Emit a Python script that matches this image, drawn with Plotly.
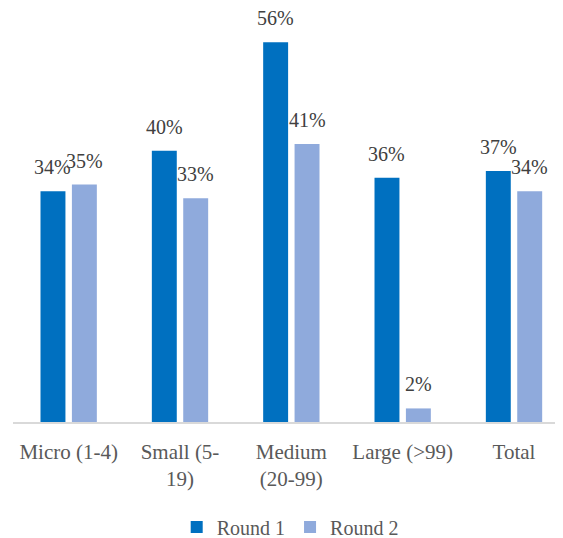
import plotly.graph_objects as go

categories = ["Micro (1-4)", "Small (5-<br>19)", "Medium<br>(20-99)", "Large (>99)", "Total"]
round1 = [0.34, 0.40, 0.56, 0.36, 0.37]
round2 = [0.35, 0.33, 0.41, 0.02, 0.34]
series_names = ["Round 1", "Round 2"]
colors = ["#0070C0", "#8FAADC"]

FONT = "Liberation Serif"
TEXT_COLOR = "#595959"
LABEL_COLOR = "#404040"

bar_w = 0.224
gap = 0.058
offsets = [-bar_w - gap / 2, gap / 2]

x_idx = list(range(len(categories)))

fig = go.Figure()
for name, vals, col, off in zip(series_names, [round1, round2], colors, offsets):
    fig.add_trace(go.Bar(
        x=x_idx, y=vals, name=name, marker=dict(color=col, line=dict(width=0)),
        width=bar_w, offset=off, hoverinfo="skip",
    ))

annotations = []
for vals, off in zip([round1, round2], offsets):
    for i, v in enumerate(vals):
        annotations.append(dict(
            x=i + off + bar_w / 2, y=v, xref="x", yref="y",
            text=f"{round(v * 100)}%", showarrow=False,
            yanchor="bottom", xanchor="center", yshift=11,
            font=dict(family=FONT, size=20, color=LABEL_COLOR),
        ))

fig.update_layout(
    width=563, height=538,
    margin=dict(l=5, r=8, t=7, b=124, autoexpand=False),
    paper_bgcolor="white", plot_bgcolor="white",
    barmode="overlay",
    annotations=annotations,
    showlegend=True,
    legend=dict(
        orientation="h", xref="paper", yref="paper",
        x=0.504, y=-0.258, xanchor="center", yanchor="middle",
        font=dict(family=FONT, size=20, color=TEXT_COLOR),
        itemwidth=30, tracegroupgap=0,
    ),
)
fig.update_xaxes(
    type="linear", range=[-0.5, 4.44], automargin=False,
    tickmode="array", tickvals=x_idx, ticktext=categories,
    showline=True, linecolor="#D9D9D9", linewidth=1.5,
    showgrid=False, zeroline=False, ticks="", ticklabelstandoff=10,
    tickfont=dict(family=FONT, size=21, color=TEXT_COLOR),
)
fig.update_yaxes(
    range=[0, 0.6], visible=False, showgrid=False, zeroline=False, automargin=False,
)

fig.write_html("out.html")
